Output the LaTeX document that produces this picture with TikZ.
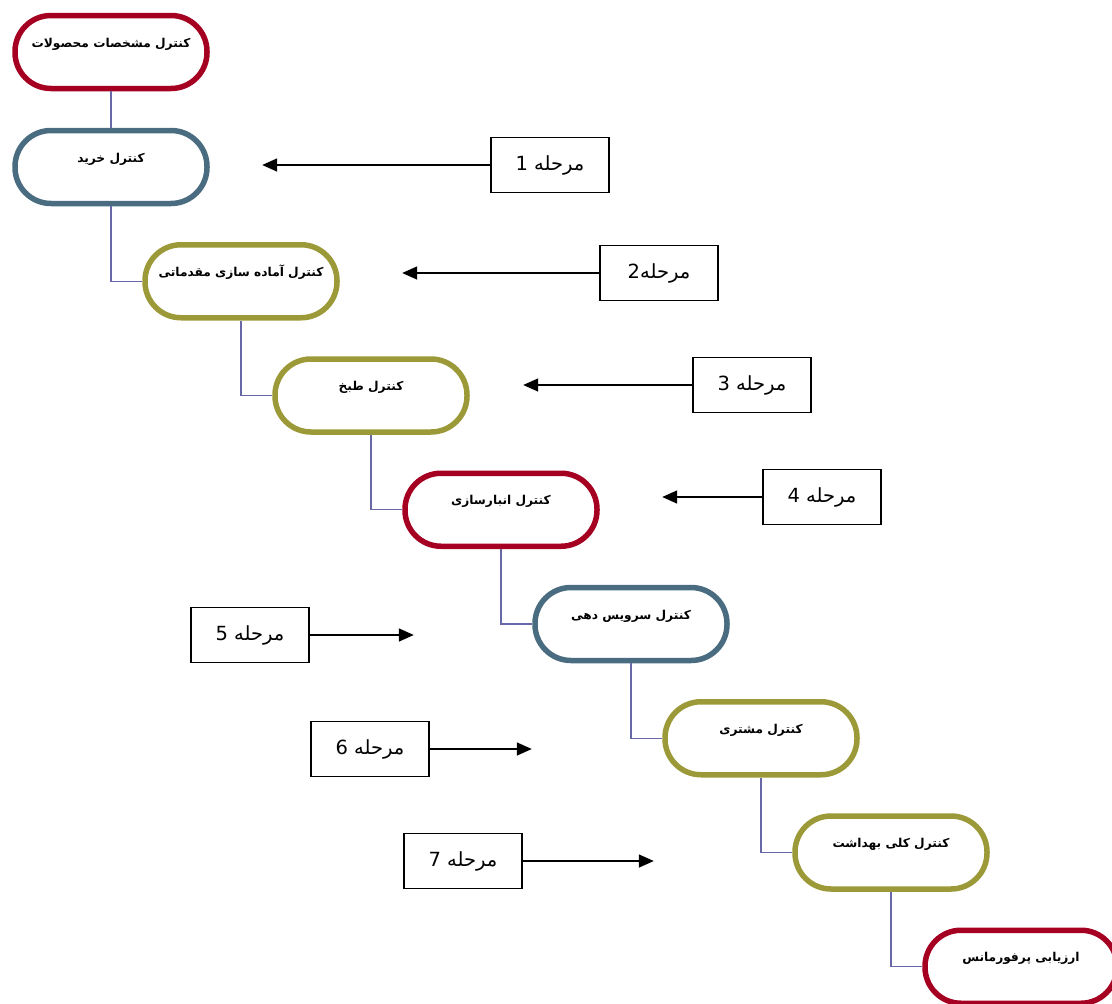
\documentclass[tikz,border=0pt]{standalone}
\usepackage{fontspec}
\usepackage{tikz}
\usetikzlibrary{calc}
\usetikzlibrary{arrows.meta}
\TeXXeTstate=1
\newfontfamily\arabicfont[Script=Arabic]{DejaVu Sans}
\definecolor{ctrlred}{RGB}{165,0,33}
\definecolor{ctrlblue}{RGB}{74,108,128}
\definecolor{ctrlolive}{RGB}{156,154,56}
\definecolor{linkpurple}{RGB}{104,104,168}
\tikzset{
  ctrl/.style = {rectangle, rounded corners = 36pt, line width = 5.5pt, fill = white, minimum width = 192pt, minimum height = 73pt, text height = 12pt, text depth = 22pt, font = \arabicfont\bfseries\fontsize{12.2}{14}\selectfont},
  stagebox/.style = {rectangle, draw = black, line width = 1.6pt, minimum width = 118pt, minimum height = 55pt, font = \arabicfont\fontsize{19.5}{22}\selectfont},
  link/.style = {draw = linkpurple, line width = 1.4pt},
  stagearrow/.style = {line width = 1.5pt, -{Triangle[length=15pt, width=13pt]}}
}

\begin{document}
\begin{tikzpicture}[x=1pt, y=1pt]
\useasboundingbox (0,0) rectangle (1112,-1004);
% control chain
\draw (111,-52) node[ctrl, draw = ctrlred, name = c1]{\beginR کنترل مشخصات محصولات\endR};
\draw (c1) + (0,-115) node[ctrl, draw = ctrlblue, name = c2]{\beginR کنترل خرید\endR};
\draw (c2) + (130,-114.25) node[ctrl, draw = ctrlolive, name = c3]{\beginR کنترل آماده سازی مقدماتی\endR};
\draw (c3) + (130,-114.25) node[ctrl, draw = ctrlolive, name = c4]{\beginR کنترل طبخ\endR};
\draw (c4) + (130,-114.25) node[ctrl, draw = ctrlred, name = c5]{\beginR کنترل انبارسازی\endR};
\draw (c5) + (130,-114.25) node[ctrl, draw = ctrlblue, name = c6]{\beginR کنترل سرویس دهی\endR};
\draw (c6) + (130,-114.25) node[ctrl, draw = ctrlolive, name = c7]{\beginR کنترل مشتری\endR};
\draw (c7) + (130,-114.25) node[ctrl, draw = ctrlolive, name = c8]{\beginR کنترل کلی بهداشت\endR};
\draw (c8) + (130,-114.25) node[ctrl, draw = ctrlred, name = c9]{\beginR ارزیابی پرفورمانس\endR};
\draw[link] (c1.south) -- (c2.north);
\draw[link] (c2.south) |- (c3.west);
\draw[link] (c3.south) |- (c4.west);
\draw[link] (c4.south) |- (c5.west);
\draw[link] (c5.south) |- (c6.west);
\draw[link] (c6.south) |- (c7.west);
\draw[link] (c7.south) |- (c8.west);
\draw[link] (c8.south) |- (c9.west);
% stages
\draw (550,-165) node[stagebox, name = st1]{\beginR مرحله 1\endR};
\draw[stagearrow] (st1.west) -- + (-228,0);
\draw (659,-273) node[stagebox, name = st2]{\beginR مرحله2\endR};
\draw[stagearrow] (st2.west) -- + (-197,0);
\draw (752,-385) node[stagebox, name = st3]{\beginR مرحله 3\endR};
\draw[stagearrow] (st3.west) -- + (-169,0);
\draw (822,-497) node[stagebox, name = st4]{\beginR مرحله 4\endR};
\draw[stagearrow] (st4.west) -- + (-100,0);
\draw (250,-635) node[stagebox, name = st5]{\beginR مرحله 5\endR};
\draw[stagearrow] (st5.east) -- + (104,0);
\draw (370,-749) node[stagebox, name = st6]{\beginR مرحله 6\endR};
\draw[stagearrow] (st6.east) -- + (102,0);
\draw (463,-861) node[stagebox, name = st7]{\beginR مرحله 7\endR};
\draw[stagearrow] (st7.east) -- + (131,0);
\end{tikzpicture}
\end{document}
